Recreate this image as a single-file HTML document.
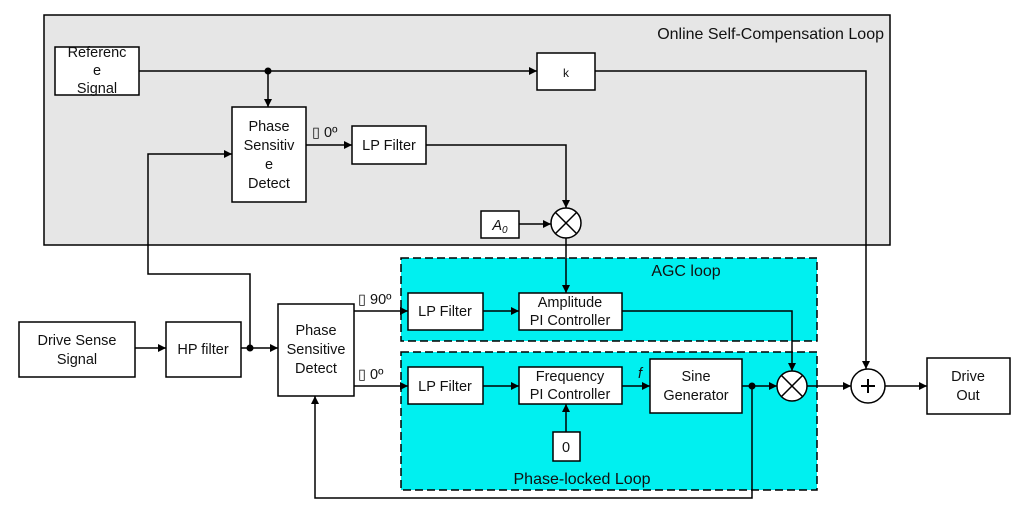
<!DOCTYPE html>
<html><head><meta charset="utf-8"><style>
html,body{margin:0;padding:0;background:#fff;}
svg{display:block;}
text{font-family:"Liberation Sans",sans-serif;font-size:14.5px;fill:#111;}
</style></head><body>
<svg width="1024" height="514" viewBox="0 0 1024 514" xmlns="http://www.w3.org/2000/svg">
<defs>
<marker id="a" viewBox="0 0 10 10" refX="10" refY="5" markerWidth="10" markerHeight="8" markerUnits="userSpaceOnUse" orient="auto"><path d="M0,0 L10,5 L0,10z" fill="#000"/></marker>
</defs>
<g stroke="#000" stroke-width="1.5" fill="none">
<rect x="44" y="15" width="846" height="230" fill="#e6e6e6"/>
<rect x="401" y="258" width="416" height="83" fill="#00f0f0" stroke-dasharray="8,4"/>
<rect x="401" y="352" width="416" height="138" fill="#00f0f0" stroke-dasharray="8,4"/>
<rect x="55" y="47" width="84" height="48" fill="#fff"/>
<rect x="537" y="53" width="58" height="37" fill="#fff"/>
<rect x="232" y="107" width="74" height="95" fill="#fff"/>
<rect x="352" y="126" width="74" height="38" fill="#fff"/>
<rect x="481" y="211" width="38" height="27" fill="#fff"/>
<rect x="19" y="322" width="116" height="55" fill="#fff"/>
<rect x="166" y="322" width="75" height="55" fill="#fff"/>
<rect x="278" y="304" width="76" height="92" fill="#fff"/>
<rect x="408" y="293" width="75" height="37" fill="#fff"/>
<rect x="519" y="293" width="103" height="37" fill="#fff"/>
<rect x="408" y="367" width="75" height="37" fill="#fff"/>
<rect x="519" y="367" width="103" height="37" fill="#fff"/>
<rect x="650" y="359" width="92" height="54" fill="#fff"/>
<rect x="553" y="432" width="27" height="29" fill="#fff"/>
<rect x="927" y="358" width="83" height="56" fill="#fff"/>
<circle cx="566" cy="223" r="15" fill="#fff"/>
<path d="M555,212 L577,234 M577,212 L555,234"/>
<circle cx="792" cy="386" r="15" fill="#fff"/>
<path d="M781,375 L803,397 M803,375 L781,397"/>
<circle cx="868" cy="386" r="17" fill="#fff"/>
<path d="M139,71 L537,71" marker-end="url(#a)"/>
<path d="M268,71 L268,107" marker-end="url(#a)"/>
<path d="M595,71 L866,71 L866,369" marker-end="url(#a)"/>
<path d="M306,145 L352,145" marker-end="url(#a)"/>
<path d="M426,145 L566,145 L566,208" marker-end="url(#a)"/>
<path d="M519,224 L551,224" marker-end="url(#a)"/>
<path d="M566,238 L566,293" marker-end="url(#a)"/>
<path d="M250,348 L250,274 L148,274 L148,154 L232,154" marker-end="url(#a)"/>
<path d="M135,348 L166,348" marker-end="url(#a)"/>
<path d="M241,348 L278,348" marker-end="url(#a)"/>
<path d="M354,311 L408,311" marker-end="url(#a)"/>
<path d="M354,386 L408,386" marker-end="url(#a)"/>
<path d="M483,311 L519,311" marker-end="url(#a)"/>
<path d="M483,386 L519,386" marker-end="url(#a)"/>
<path d="M622,311 L792,311 L792,371" marker-end="url(#a)"/>
<path d="M622,386 L650,386" marker-end="url(#a)"/>
<path d="M566,432 L566,404" marker-end="url(#a)"/>
<path d="M742,386 L777,386" marker-end="url(#a)"/>
<path d="M752,386 L752,498 L315,498 L315,396" marker-end="url(#a)"/>
<path d="M807,386 L851,386" marker-end="url(#a)"/>
<path d="M885,386 L927,386" marker-end="url(#a)"/>
</g>
<circle cx="268" cy="71" r="3.5" fill="#000"/>
<circle cx="250" cy="348" r="3.5" fill="#000"/>
<circle cx="752" cy="386" r="3.5" fill="#000"/>
<path d="M861,386 L875,386 M868,379 L868,393" stroke="#000" stroke-width="2"/>
<text x="884" y="39" text-anchor="end" style="font-size:16px">Online Self-Compensation Loop</text>
<text x="97" y="57" text-anchor="middle">Referenc</text>
<text x="97" y="75" text-anchor="middle">e</text>
<text x="97" y="93" text-anchor="middle">Signal</text>
<text x="566" y="77" text-anchor="middle" style="font-size:12px">k</text>
<text x="269" y="131" text-anchor="middle">Phase</text>
<text x="269" y="150" text-anchor="middle">Sensitiv</text>
<text x="269" y="169" text-anchor="middle">e</text>
<text x="269" y="188" text-anchor="middle">Detect</text>
<text x="312" y="137">▯ 0º</text>
<text x="389" y="150" text-anchor="middle">LP Filter</text>
<text x="500" y="230" text-anchor="middle" style="font-style:italic">A<tspan style="font-size:10px" dy="3">0</tspan></text>
<text x="77" y="345" text-anchor="middle">Drive Sense</text>
<text x="77" y="364" text-anchor="middle">Signal</text>
<text x="203" y="354" text-anchor="middle">HP filter</text>
<text x="316" y="335" text-anchor="middle">Phase</text>
<text x="316" y="354" text-anchor="middle">Sensitive</text>
<text x="316" y="373" text-anchor="middle">Detect</text>
<text x="358" y="304">▯ 90º</text>
<text x="358" y="379">▯ 0º</text>
<text x="686" y="276" text-anchor="middle" style="font-size:16px">AGC loop</text>
<text x="445" y="316" text-anchor="middle">LP Filter</text>
<text x="570" y="307" text-anchor="middle">Amplitude</text>
<text x="570" y="325" text-anchor="middle">PI Controller</text>
<text x="445" y="391" text-anchor="middle">LP Filter</text>
<text x="570" y="381" text-anchor="middle">Frequency</text>
<text x="570" y="399" text-anchor="middle">PI Controller</text>
<text x="638" y="378" style="font-style:italic">f</text>
<text x="696" y="381" text-anchor="middle">Sine</text>
<text x="696" y="400" text-anchor="middle">Generator</text>
<text x="566" y="452" text-anchor="middle">0</text>
<text x="582" y="484" text-anchor="middle" style="font-size:16px">Phase-locked Loop</text>
<text x="968" y="381" text-anchor="middle">Drive</text>
<text x="968" y="400" text-anchor="middle">Out</text>
</svg>
</body></html>
